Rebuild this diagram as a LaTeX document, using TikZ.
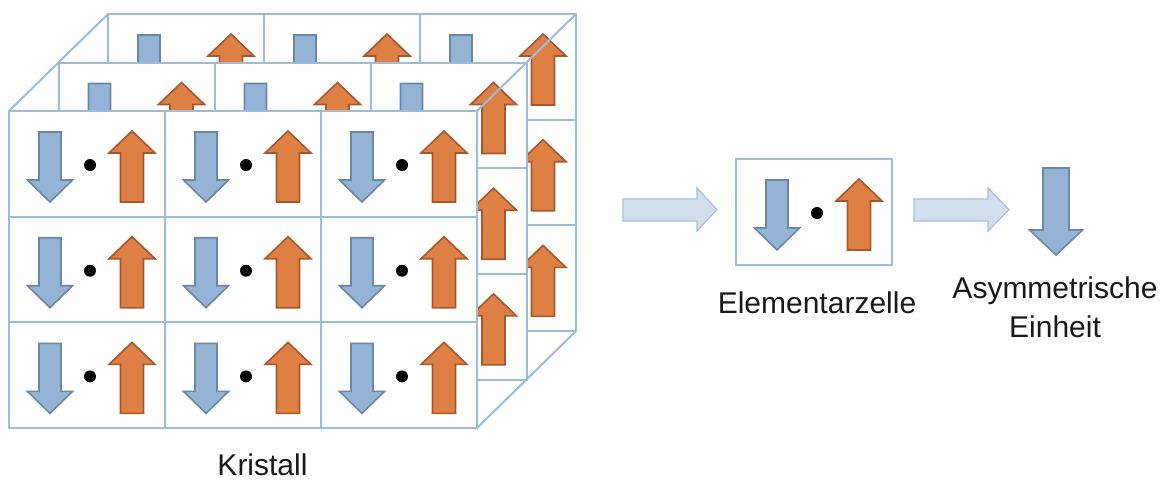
\documentclass[tikz,border=0pt]{standalone}
\usepackage{fontspec}
\setmainfont{Liberation Sans}
\definecolor{gridc}{RGB}{155,188,219}
\definecolor{bluefill}{RGB}{149,179,213}
\definecolor{blueedge}{RGB}{106,135,166}
\definecolor{orfill}{RGB}{222,127,68}
\definecolor{oredge}{RGB}{165,88,45}
\definecolor{bigfill}{RGB}{211,222,236}
\definecolor{bigedge}{RGB}{166,192,222}
\tikzset{
  gridline/.style={draw=gridc, line width=2pt},
  bluearr/.style={draw=blueedge, fill=bluefill, line width=1.6pt, line join=miter},
  orarr/.style={draw=oredge, fill=orfill, line width=1.6pt, line join=miter},
  bigarr/.style={draw=bigedge, fill=bigfill, line width=1.2pt},
  lbl/.style={font=\fontsize{30}{39}\selectfont, text=black!90, inner sep=0pt},
}
\newcommand{\ucell}[2]{%
  \begin{scope}[shift={(#1,#2)}]
    \draw[gridline, fill=white] (0,0) rectangle (156,105.7);
    \draw[bluearr] (30,21) -- (52,21) -- (52,69) -- (63.5,69) -- (41,91) -- (18.5,69) -- (30,69) -- cycle;
    \draw[orarr] (123,20) -- (146,42) -- (134.5,42) -- (134.5,91) -- (111.5,91) -- (111.5,42) -- (100,42) -- cycle;
    \fill (81,54) circle (6);
  \end{scope}}
\begin{document}
\begin{tikzpicture}[x=1pt,y=-1pt]
\useasboundingbox (0,0) rectangle (1172,480);
% crystal layers, back to front
\foreach \L in {2,1,0}{
  \pgfmathsetmacro{\xo}{9+49.5*\L}
  \pgfmathsetmacro{\yo}{111-48.5*\L}
  \foreach \i in {0,1,2}{
    \foreach \j in {0,1,2}{
      \pgfmathsetmacro{\cx}{\xo+156*\j}
      \pgfmathsetmacro{\cy}{\yo+105.7*\i}
      \ucell{\cx}{\cy}
    }
  }
}
% cube edges
\coordinate (ftl) at (9,111);
\coordinate (btl) at (108,14);
\coordinate (ftr) at (477,111);
\coordinate (btr) at (576,14);
\coordinate (fbr) at (477,428);
\coordinate (bbr) at (576,331);
\draw[gridline] (ftl) -- (btl);
\draw[gridline] (ftr) -- (btr);
\draw[gridline] (fbr) -- (bbr);
\node[lbl, anchor=base] (kristall) at (262.5,475) {Kristall};
% big arrow 1
\draw[bigarr] (623,199) -- (697,199) -- (697,188) -- (717,209.5) -- (697,231) -- (697,221) -- (623,221) -- cycle;
% unit cell
\ucell{736}{159}
\node[lbl, anchor=base] (elz) at (817,313) {Elementarzelle};
% big arrow 2
\draw[bigarr] (914,199) -- (988,199) -- (988,188) -- (1009,209.5) -- (988,231) -- (988,221) -- (914,221) -- cycle;
% asymmetric unit
\draw[bluearr] (1043,168) -- (1069,168) -- (1069,230) -- (1082.5,230) -- (1056,255) -- (1029.5,230) -- (1043,230) -- cycle;
\node[lbl, anchor=base] (asym1) at (1055,298) {Asymmetrische};
\node[lbl, anchor=base] (asym2) at (1055,337) {Einheit};
\end{tikzpicture}
\end{document}
